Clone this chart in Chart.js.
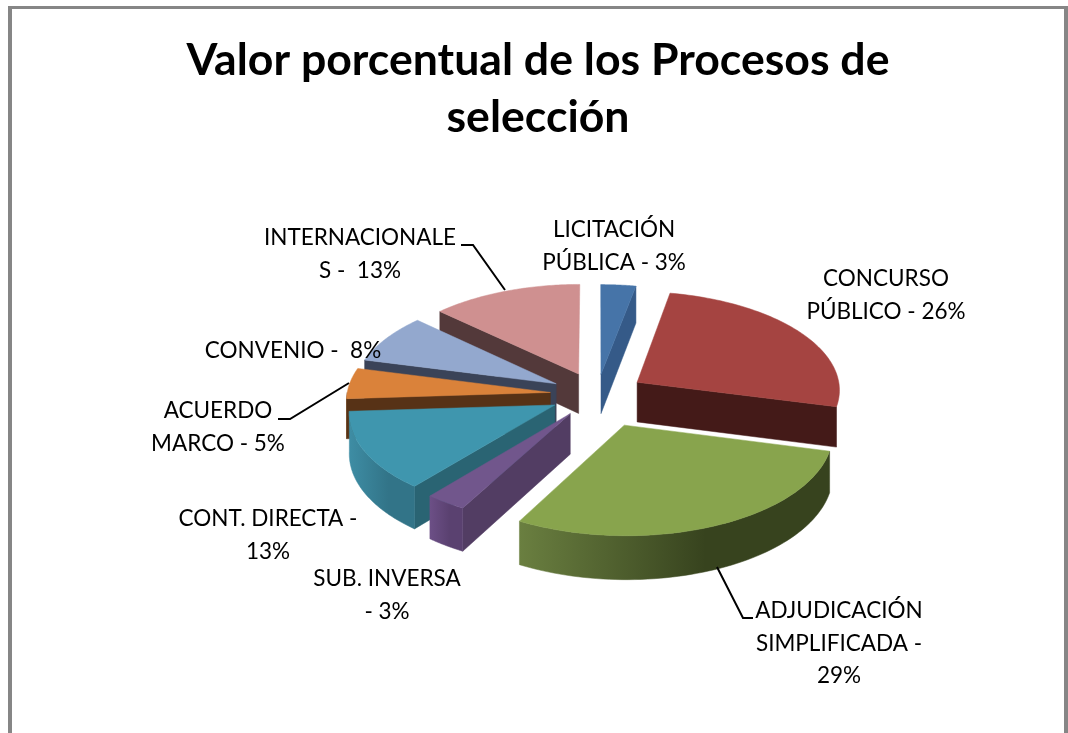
<!DOCTYPE html>
<html><head><meta charset="utf-8">
<script src="https://cdn.jsdelivr.net/npm/chart.js@4"></script>
<style>
html,body{margin:0;padding:0;background:#fff;overflow:hidden}
#wrap{position:relative;width:1068px;height:733px;overflow:hidden}
#frame{position:absolute;left:8px;top:6px;width:1052px;height:800px;border:4px solid #868686;border-top-width:3px;box-sizing:content-box;pointer-events:none}
canvas{position:absolute;left:0;top:0}
</style></head><body>
<div id="wrap"><canvas id="c" width="1068" height="733"></canvas><div id="frame"></div></div>
<script>
const titleLines = ["Valor porcentual de los Procesos de", "selección"];
const categories = ["LICITACIÓN PÚBLICA","CONCURSO PÚBLICO","ADJUDICACIÓN SIMPLIFICADA","SUB. INVERSA","CONT. DIRECTA","ACUERDO MARCO","CONVENIO","INTERNACIONALES"];
const values = [3,26,29,3,13,5,8,13];
const explode = [42,47,66,46,46,46,46,46];
const topColors = ["#4674A8","#A54441","#88A44D","#71568C","#3F96AE","#DA823A","#93A8CE","#CF9090"];
const edgeColors = ["#355A88","#441A18","#37431E","#523D63","#2A6473","#573216","#3A4358","#53393A"];
const outerLight = ["#355A88","#441A18","#6A7F40","#6C4F86","#3E8DA4","#6A3F1C","#3A4358","#53393A"];
const outerDark = ["#355A88","#441A18","#37431E","#5A4170","#327488","#573216","#3A4358","#53393A"];
const labelLines = [
  ["LICITACIÓN","PÚBLICA - 3%"],["CONCURSO","PÚBLICO - 26%"],["ADJUDICACIÓN","SIMPLIFICADA -","29%"],["SUB. INVERSA","- 3%"],
  ["CONT. DIRECTA -","13%"],["ACUERDO","MARCO - 5%"],["CONVENIO -  8%"],["INTERNACIONALE","S -  13%"]];
const labelCenters = [[614,230],[886,279],[839,611],[387,579],[268,519],[218,411],[293,351],[360,238]];
const leaders = [[[461,245],[473,245],[505,290]],[[278,419],[290,419],[349,383]],[[717,567],[743,618],[753,618]]];

const SHIFT_X=59, AX=1.02, BY=0.494, K=0.069, DEPTH=40;

const pie3d = {
  id:'pie3d',
  beforeDatasetDraw(chart,args){
    const ctx=chart.ctx, meta=args.meta;
    const items=meta.data.map((el,i)=>{
      const p=el.getProps(['x','y','startAngle','endAngle','outerRadius'],true);
      const R=p.outerRadius, mid=(p.startAngle+p.endAngle)/2, off=el.options.offset/R;
      const ox=Math.cos(mid)*off, oy=Math.sin(mid)*off;
      const proj=(X,Y,d)=>{const s=1/(1-K*Y);return [p.x+SHIFT_X+AX*R*X*s, p.y+BY*R*Y*s+(d?DEPTH*s:0)];};
      return {i,p,mid,ox,oy,proj};
    }).sort((a,b)=>Math.sin(a.mid)-Math.sin(b.mid));
    const poly=(pts,fill)=>{ctx.beginPath();pts.forEach((q,j)=>j?ctx.lineTo(q[0],q[1]):ctx.moveTo(q[0],q[1]));ctx.closePath();ctx.fillStyle=fill;ctx.strokeStyle=fill;ctx.lineWidth=0.5;ctx.fill();ctx.stroke();};
    ctx.save();
    for(const it of items){
      const {i,p,ox,oy,proj}=it;
      const n=64, arc=(a0,a1,d)=>{const r=[];for(let j=0;j<=n;j++){const a=a0+(a1-a0)*j/n;r.push(proj(ox+Math.cos(a),oy+Math.sin(a),d));}return r;};
      const a0=p.startAngle,a1=p.endAngle;
      const wall=(a)=>{const A=proj(ox,oy,false),B=proj(ox+Math.cos(a),oy+Math.sin(a),false),C=proj(ox+Math.cos(a),oy+Math.sin(a),true),D=proj(ox,oy,true);poly([A,B,C,D],edgeColors[i]);};
      if(Math.cos(a1)>0.0005) wall(a1);
      if(Math.cos(a0)<-0.0005) wall(a0);
      const norm=x=>{let v=x%(2*Math.PI);if(v<0)v+=2*Math.PI;return v;};
      const s0=norm(a0), span=a1-a0;
      const lo=Math.max(s0,0), hi=Math.min(s0+span,Math.PI);
      if(hi>lo){
        const t=arc(lo,hi,false), b=arc(lo,hi,true).reverse();
        const xs=t.map(q=>q[0]);
        const minX=Math.min(...xs), maxX=Math.max(...xs);
        const g=ctx.createLinearGradient(minX,0,maxX,0);
        g.addColorStop(0,outerLight[i]);g.addColorStop(0.6,outerDark[i]);g.addColorStop(1,outerDark[i]);
        poly(t.concat(b),g);
      }
      poly([proj(ox,oy,false)].concat(arc(a0,a1,false)),topColors[i]);
    }
    ctx.restore();
    return false;
  },
  afterDatasetsDraw(chart){
    const ctx=chart.ctx;
    ctx.save();
    ctx.strokeStyle='#000';ctx.lineWidth=2;ctx.lineJoin='miter';
    for(const l of leaders){ctx.beginPath();l.forEach((q,j)=>j?ctx.lineTo(q[0],q[1]):ctx.moveTo(q[0],q[1]));ctx.stroke();}
    ctx.fillStyle='#000';ctx.font='22.5px Lato';ctx.textAlign='center';ctx.textBaseline='middle';
    labelLines.forEach((ls,i)=>ls.forEach((s,j)=>ctx.fillText(s,labelCenters[i][0],labelCenters[i][1]+j*32.5)));
    ctx.restore();
  }
};

new Chart(document.getElementById('c'),{
  type:'pie',
  data:{labels:categories,datasets:[{data:values,backgroundColor:topColors,offset:explode,borderWidth:0}]},
  plugins:[pie3d],
  options:{
    responsive:false,animation:false,
    layout:{padding:{left:8,right:0,top:0,bottom:106}},
    plugins:{
      legend:{display:false},tooltip:{enabled:false},
      title:{display:true,text:titleLines,color:'#000',font:{family:'Lato',size:44.6,weight:'bold',lineHeight:1.28},padding:{top:32,bottom:16}}
    }
  }
});
</script></body></html>
